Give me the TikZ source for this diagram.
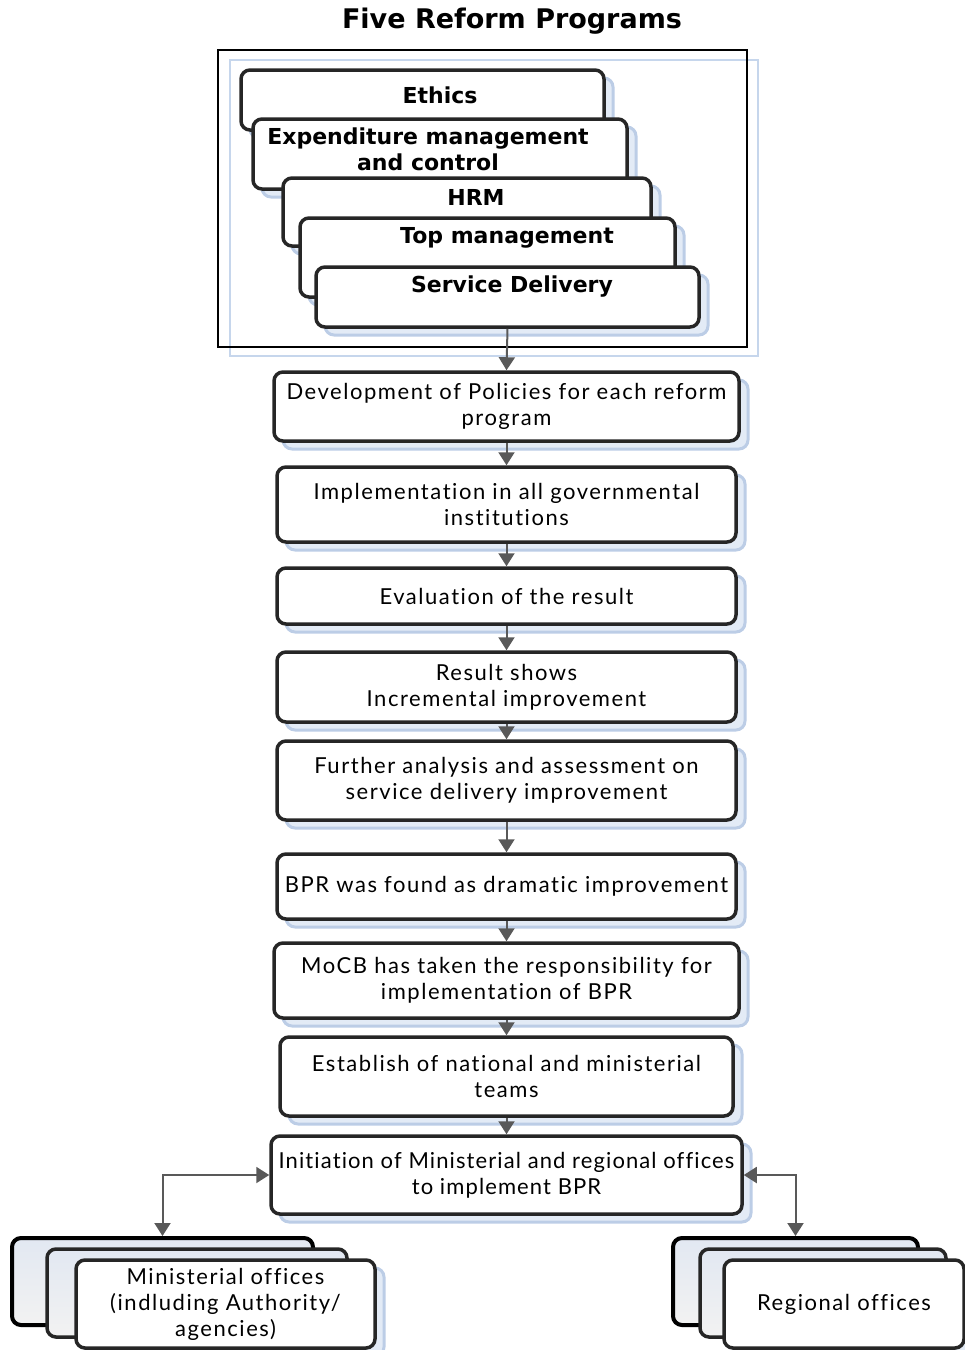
\documentclass[tikz,border=0pt]{standalone}
\usepackage{fontspec}
\setmainfont{Lato}[LetterSpace=7, Ligatures=NoCommon]
\newfontfamily\headfont{DejaVu Sans}
\usetikzlibrary{arrows.meta,shadows}

\definecolor{boxline}{HTML}{262626}
\definecolor{arrowgray}{HTML}{595959}
\definecolor{shadowline}{HTML}{BCCDE6}
\definecolor{shadowfill}{HTML}{E3EBF6}
\definecolor{frameblue}{HTML}{C6D6EC}
\definecolor{stacktop}{HTML}{E2E8F2}
\definecolor{stackbot}{HTML}{F2F2F2}

\tikzset{
  boxshadow/.style={copy shadow={shadow xshift=9pt, shadow yshift=-8pt,
      draw=shadowline, fill=shadowfill, line width=3pt}},
  progbox/.style={draw=boxline, line width=3.5pt, rounded corners=9pt,
      fill=white, inner sep=0pt, boxshadow},
  flowbox/.style={progbox, align=center,
      font=\fontsize{22}{26}\selectfont},
  headtxt/.style={font=\headfont\bfseries\fontsize{22}{26}\selectfont,
      align=center, inner sep=0pt},
  backbox/.style={draw=black, line width=4pt, rounded corners=9pt,
      top color=stacktop, bottom color=stackbot, inner sep=0pt},
  flowarrow/.style={draw=arrowgray, line width=2pt,
      -{Triangle[width=16pt,length=13pt]}},
  sidearrow/.style={draw=arrowgray, line width=2pt,
      {Triangle[width=16pt,length=13pt]}-{Triangle[width=16pt,length=13pt]}}
}

\begin{document}
\begin{tikzpicture}[x=1pt,y=-1pt]
\useasboundingbox (0,0) rectangle (965,1350);

% title
\node[font=\headfont\bfseries\fontsize{27}{32}\selectfont, inner sep=0pt]
  (title) at (512,21) {Five Reform Programs};

% frames around the five programs
\draw[frameblue, line width=2pt] (230,60) rectangle (758,356);
\draw[black, line width=2pt] (218,50) rectangle (747,347);

% the five reform programs, stacked
\node[progbox, minimum width=363pt, minimum height=60pt] (ethics) at (422.5,100) {};
\node[headtxt] (ethicsT) at (440,95) {Ethics};
\node[progbox, minimum width=374pt, minimum height=70pt] (expend) at (440,154) {};
\node[headtxt] (expendT) at (428,149) {Expenditure management\\and control};
\node[progbox, minimum width=368pt, minimum height=68pt] (hrm) at (467,212) {};
\node[headtxt] (hrmT) at (476,197) {HRM};
\node[progbox, minimum width=375pt, minimum height=79pt] (topm) at (487.5,257.5) {};
\node[headtxt] (topmT) at (507,238) {Top management};
\node[progbox, minimum width=383pt, minimum height=60pt] (serv) at (507.5,297) {};
\node[headtxt] (servT) at (512,287) {Service Delivery};

% main flow
\node[flowbox, minimum width=465pt, minimum height=69pt] (dev) at (506.5,406.5)
  {Development of Policies for each reform\\program};
\node[flowbox, minimum width=459pt, minimum height=75pt] (impl) at (506.5,504.5)
  {Implementation in all governmental\\institutions};
\node[flowbox, minimum width=459pt, minimum height=56pt] (eval) at (506.5,596)
  {Evaluation of the result};
\node[flowbox, minimum width=459pt, minimum height=70pt] (res) at (506.5,687)
  {Result shows\\Incremental improvement};
\node[flowbox, minimum width=459pt, minimum height=79pt] (further) at (506.5,780.5)
  {Further analysis and assessment on\\service delivery improvement};
\node[flowbox, minimum width=459pt, minimum height=65pt] (bpr) at (506.5,886.5)
  {BPR was found as dramatic improvement};
\node[flowbox, minimum width=465pt, minimum height=75pt] (mocb) at (506.5,980.5)
  {MoCB has taken the responsibility for\\implementation of BPR};
\node[flowbox, minimum width=453pt, minimum height=79pt] (estab) at (506.5,1076.5)
  {Establish of national and ministerial\\teams};
\node[flowbox, minimum width=471pt, minimum height=78pt,
      font=\fontsize{22}{26}\selectfont\addfontfeature{LetterSpace=5}] (init) at (506.5,1175)
  {Initiation of Ministerial and regional offices\\to implement BPR};

\draw[flowarrow] (serv.south) -- (dev.north);
\draw[flowarrow] (dev) -- (impl);
\draw[flowarrow] (impl) -- (eval);
\draw[flowarrow] (eval) -- (res);
\draw[flowarrow] (res) -- (further);
\draw[flowarrow] (further) -- (bpr);
\draw[flowarrow] (bpr) -- (mocb);
\draw[flowarrow] (mocb) -- (estab);
\draw[flowarrow] (estab) -- (init);

% ministerial offices stack
\node[backbox, minimum width=301pt, minimum height=87pt] (mback) at (162.5,1281.5) {};
\node[backbox, line width=3.5pt, draw=boxline, minimum width=300pt, minimum height=88pt] (mmid) at (197,1293) {};
\node[flowbox, minimum width=299pt, minimum height=88pt] (mfront) at (225.5,1304)
  {Ministerial offices\\(indluding Authority/\\agencies)};

% regional offices stack
\node[backbox, minimum width=245pt, minimum height=87pt] (rback) at (795.5,1281.5) {};
\node[backbox, line width=3.5pt, draw=boxline, minimum width=246pt, minimum height=88pt] (rmid) at (823,1293) {};
\node[flowbox, minimum width=240pt, minimum height=88pt] (rfront) at (844,1304)
  {Regional offices};

% links to the offices
\draw[sidearrow] (mback.north) |- (init.west);
\draw[sidearrow] (rback.north) |- (init.east);
\end{tikzpicture}
\end{document}
